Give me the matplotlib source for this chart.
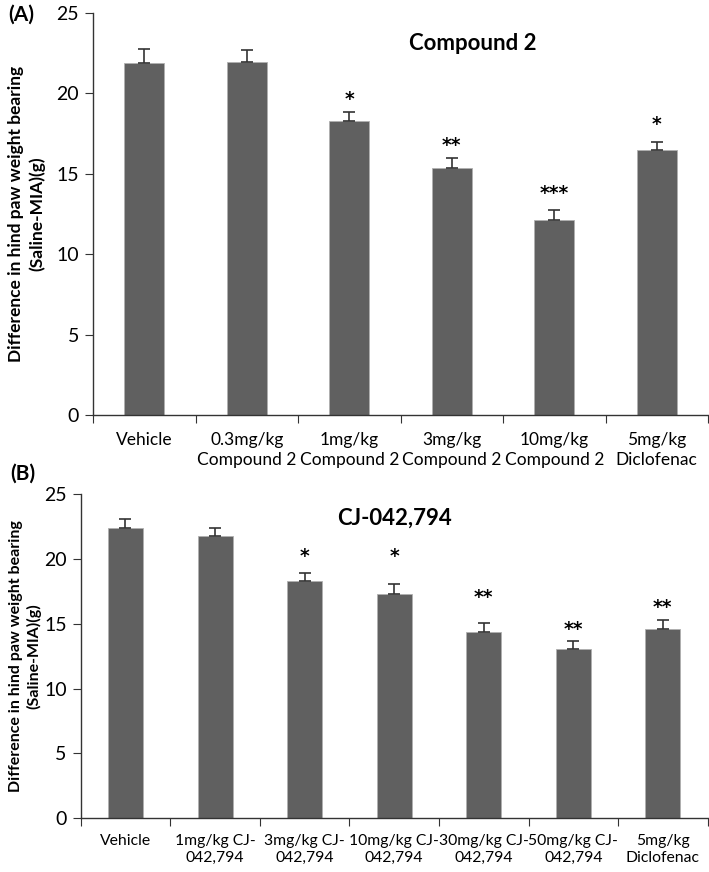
import matplotlib
matplotlib.use("Agg")
import matplotlib.pyplot as plt
import numpy as np

plt.rcParams['font.family'] = ['Lato', 'DejaVu Sans']

# panel A data
labels_a = ["Vehicle", "0.3mg/kg\nCompound 2", "1mg/kg\nCompound 2", "3mg/kg\nCompound 2",
            "10mg/kg\nCompound 2", "5mg/kg\nDiclofenac"]
means_a = [21.9, 21.95, 18.3, 15.35, 12.15, 16.45]
err_a = [0.85, 0.77, 0.55, 0.63, 0.58, 0.52]
stars_a = ["", "", "*", "**", "***", "*"]
star_y_a = [0, 0, 19.6, 16.75, 13.8, 18.05]

# panel B data
labels_b = ["Vehicle", "1mg/kg CJ-\n042,794", "3mg/kg CJ-\n042,794", "10mg/kg CJ-\n042,794",
            "30mg/kg CJ-\n042,794", "50mg/kg CJ-\n042,794", "5mg/kg\nDiclofenac"]
means_b = [22.4, 21.8, 18.3, 17.33, 14.35, 13.05, 14.63]
err_b = [0.72, 0.61, 0.65, 0.77, 0.72, 0.62, 0.65]
stars_b = ["", "", "*", "*", "**", "**", "**"]
star_y_b = [0, 0, 20.2, 20.2, 17.0, 14.6, 16.25]

bar_color = "#606060"
ylabel = "Difference in hind paw weight bearing\n(Saline-MIA)(g)"

fig = plt.figure(figsize=(7.09, 8.72), dpi=100)


def draw_panel(ax, labels, means, errs, stars, star_y, title, title_x, xfs, xpad, yfs):
    n = len(labels)
    x = np.arange(n) + 0.5
    ax.bar(x, means, width=0.39, color=bar_color, edgecolor="#b0b0b0", linewidth=0.6, zorder=2)
    ax.errorbar(x, means, yerr=[np.zeros(n), errs], fmt="none", ecolor="#333333",
                elinewidth=1.2, capsize=4, capthick=1.2, zorder=3)
    for xi, s, sy in zip(x, stars, star_y):
        if s:
            ax.text(xi, sy, s, ha="center", va="center", fontsize=13.5, fontweight="bold",
                    family="DejaVu Sans")
    ax.set_xlim(0, n)
    ax.set_ylim(0, 25)
    ax.set_yticks([0, 5, 10, 15, 20, 25])
    ax.set_xticks(np.arange(n + 1))
    ax.set_xticklabels([])
    ax.set_xticks(x, minor=True)
    ax.set_xticklabels(labels, minor=True, fontsize=xfs, linespacing=1.3)
    ax.tick_params(axis="x", which="minor", length=0, pad=xpad)
    ax.tick_params(axis="x", which="major", length=6, direction="out", color="#333333")
    ax.tick_params(axis="y", length=6, direction="out", labelsize=14, color="#333333", pad=4)
    for side in ["top", "right"]:
        ax.spines[side].set_visible(False)
    for side in ["left", "bottom"]:
        ax.spines[side].set_color("#333333")
        ax.spines[side].set_linewidth(1.0)
    ax.set_ylabel(ylabel, fontsize=yfs, fontweight="bold", linespacing=1.3)
    ax.text(title_x, 0.925, title, transform=ax.transAxes, ha="center", va="center",
            fontsize=16, fontweight="bold")
    return ax


ax1 = fig.add_axes([0.1312, 0.5241, 0.8674, 0.461])
draw_panel(ax1, labels_a, means_a, err_a, stars_a, star_y_a, "Compound 2", 0.617, 12.5, 12, 12.5)
ax1.yaxis.set_label_coords(-0.078, 0.5)

ax2 = fig.add_axes([0.1138, 0.0616, 0.8843, 0.3716])
draw_panel(ax2, labels_b, means_b, err_b, stars_b, star_y_b, "CJ-042,794", 0.50, 11.3, 11, 11.5)
ax2.yaxis.set_label_coords(-0.062, 0.5)

fig.text(0.012, 0.983, "(A)", fontsize=15, fontweight="bold", va="center", ha="left")
fig.text(0.014, 0.457, "(B)", fontsize=15, fontweight="bold", va="center", ha="left")

fig.savefig("out.png", dpi=100)
